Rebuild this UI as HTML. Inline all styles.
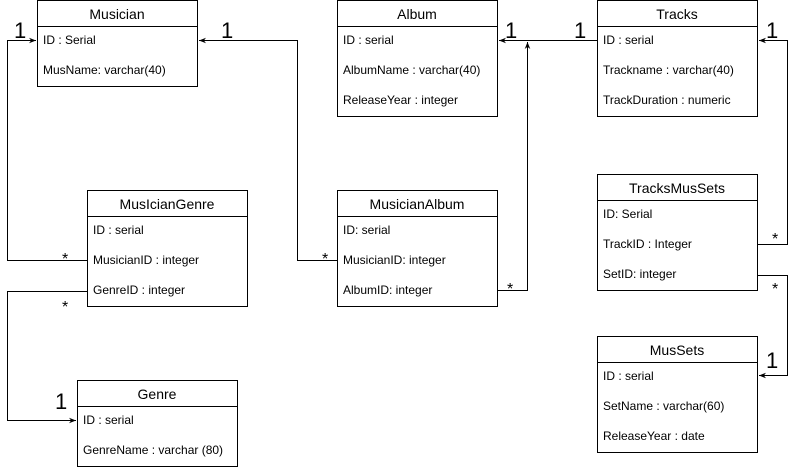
<!DOCTYPE html>
<html><head><style>body{margin:0;background:#fff}svg{display:block}text{font-family:"Liberation Sans",Arial,sans-serif;fill:#000}</style></head><body>
<svg width="796" height="470" viewBox="0 0 796 470" xmlns="http://www.w3.org/2000/svg">
<defs><marker id="a" viewBox="0 0 10 10" refX="10" refY="5" markerWidth="7" markerHeight="7" orient="auto"><path d="M0,1 L10,5 L0,9 L3,5 Z" fill="#000"/></marker></defs>
<g fill="none" stroke="#000" stroke-width="1">
<rect x="37.5" y="0.5" width="160" height="86"/><line x1="37.5" y1="26.5" x2="197.5" y2="26.5"/>
<rect x="337.5" y="0.5" width="160" height="116"/><line x1="337.5" y1="26.5" x2="497.5" y2="26.5"/>
<rect x="597.5" y="0.5" width="160" height="116"/><line x1="597.5" y1="26.5" x2="757.5" y2="26.5"/>
<rect x="87.5" y="190.5" width="160" height="116"/><line x1="87.5" y1="216.5" x2="247.5" y2="216.5"/>
<rect x="337.5" y="190.5" width="160" height="116"/><line x1="337.5" y1="216.5" x2="497.5" y2="216.5"/>
<rect x="597.5" y="174.5" width="160" height="116"/><line x1="597.5" y1="200.5" x2="757.5" y2="200.5"/>
<rect x="597.5" y="336.5" width="160" height="116"/><line x1="597.5" y1="362.5" x2="757.5" y2="362.5"/>
<rect x="77.5" y="380.5" width="160" height="86"/><line x1="77.5" y1="406.5" x2="237.5" y2="406.5"/>
<polyline points="87.5,260.5 7.5,260.5 7.5,40.5 36,40.5" marker-end="url(#a)"/>
<polyline points="337.5,260.5 297.5,260.5 297.5,40.5 199,40.5" marker-end="url(#a)"/>
<polyline points="497.5,290.5 527.5,290.5 527.5,42" marker-end="url(#a)"/>
<polyline points="597.5,40.5 499,40.5" marker-end="url(#a)"/>
<polyline points="757.5,244.5 787.5,244.5 787.5,40.5 759,40.5" marker-end="url(#a)"/>
<polyline points="757.5,275.5 787.5,275.5 787.5,375.5 759,375.5" marker-end="url(#a)"/>
<polyline points="87.5,291.5 7.5,291.5 7.5,420.5 76,420.5" marker-end="url(#a)"/>
</g>
<g font-size="14" text-anchor="middle">
<text x="117" y="19">Musician</text><text x="417" y="19">Album</text><text x="677" y="19">Tracks</text>
<text x="167" y="209">MusIcianGenre</text><text x="417" y="209">MusicianAlbum</text>
<text x="677" y="193">TracksMusSets</text><text x="677" y="355">MusSets</text><text x="157" y="399">Genre</text>
</g>
<g font-size="12">
<text x="43" y="44">ID : Serial</text><text x="43" y="74">MusName: varchar(40)</text>
<text x="343" y="44">ID : serial</text><text x="343" y="74">AlbumName : varchar(40)</text><text x="343" y="104">ReleaseYear : integer</text>
<text x="603" y="44">ID : serial</text><text x="603" y="74">Trackname : varchar(40)</text><text x="603" y="104">TrackDuration : numeric</text>
<text x="93" y="234">ID : serial</text><text x="93" y="264">MusicianID : integer</text><text x="93" y="294">GenreID : integer</text>
<text x="343" y="234">ID: serial</text><text x="343" y="264">MusicianID: integer</text><text x="343" y="294">AlbumID: integer</text>
<text x="603" y="218">ID: Serial</text><text x="603" y="248">TrackID : Integer</text><text x="603" y="278">SetID: integer</text>
<text x="603" y="380">ID : serial</text><text x="603" y="410">SetName : varchar(60)</text><text x="603" y="440">ReleaseYear : date</text>
<text x="83" y="424">ID : serial</text><text x="83" y="454">GenreName : varchar (80)</text>
</g>
<g font-size="22">
<text x="14" y="38">1</text><text x="221" y="38">1</text><text x="505" y="38">1</text><text x="574" y="38">1</text><text x="766" y="38">1</text><text x="766" y="368">1</text><text x="55" y="409">1</text>
</g>
<g font-size="16">
<text x="62" y="264">*</text><text x="322" y="264">*</text><text x="507" y="294">*</text><text x="772" y="244">*</text><text x="772" y="294">*</text><text x="62" y="312">*</text>
</g>
</svg>
</body></html>
